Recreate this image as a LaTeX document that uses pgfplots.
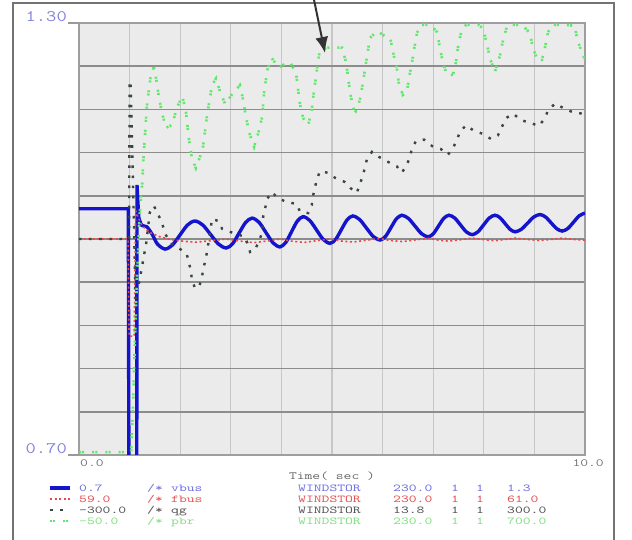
\documentclass[border=0pt]{standalone}
\usepackage{fontspec}
\usepackage{pgfplots}
\pgfplotsset{compat=1.18}
\usepackage{pgfplotstable}
\usetikzlibrary{arrows.meta}

\definecolor{vb}{RGB}{20,20,205}
\definecolor{fb}{RGB}{232,72,72}
\definecolor{qgc}{RGB}{58,70,66}
\definecolor{pbc}{RGB}{95,232,105}
\definecolor{vbt}{RGB}{110,110,225}
\definecolor{fbt}{RGB}{228,80,80}
\definecolor{qgt}{RGB}{80,80,80}
\definecolor{pbt}{RGB}{130,222,130}
\definecolor{ylab}{RGB}{130,130,222}

\newcommand\mono[3]{\scalebox{#2}[1]{\fontsize{#1}{#1}\selectfont\ttfamily #3}}

\pgfplotstableread{
t v
0 1.042
0.975 1.042
0.99 0.55
1.14 0.55
1.146 1.075
1.18 1.03
}\vbusA
\pgfplotstableread{
t v
1.18 1.03
1.24 1.019
1.34 1.017
1.45 1.006
1.55 0.993
1.70 0.986
1.8475 0.9917
1.995 1.0055
2.1425 1.0193
2.29 1.025
2.445 1.0195
2.60 1.0063
2.755 0.993
2.91 0.9875
3.0375 0.9936
3.165 1.0083
3.2925 1.0229
3.42 1.029
3.5575 1.0232
3.695 1.009
3.8325 0.9948
3.97 0.989
4.085 0.9951
4.20 1.010
4.315 1.0249
4.43 1.031
4.5625 1.0256
4.695 1.0125
4.8275 0.9994
4.96 0.994
5.0725 0.9995
5.185 1.013
5.2975 1.0265
5.41 1.032
5.545 1.0271
5.68 1.0153
5.815 1.0035
5.95 0.9986
6.0575 1.0036
6.165 1.0158
6.2725 1.028
6.38 1.033
6.51 1.0286
6.64 1.018
6.77 1.0074
6.90 1.003
7.0025 1.0074
7.105 1.018
7.2075 1.0286
7.31 1.033
7.425 1.0291
7.54 1.0195
7.655 1.0099
7.77 1.006
7.8825 1.0099
7.995 1.0195
8.1075 1.0291
8.22 1.033
8.32 1.0296
8.42 1.0215
8.52 1.0134
8.62 1.010
8.7425 1.0135
8.865 1.022
8.9875 1.0305
9.11 1.034
9.22 1.0306
9.33 1.0225
9.44 1.0144
9.55 1.011
9.6625 1.0147
9.775 1.0235
9.8875 1.0323
10.0 1.036
}\vbusB
\pgfplotstableread{
t f
0 60.0
0.97 60.0
0.99 59.55
1.09 59.55
1.12 60.13
1.17 60.10
1.25 60.06
1.40 60.03
1.60 60.01
1.80 59.998
2.05 59.99
2.30 59.985
2.60 59.992
2.90 60.0
3.20 59.99
3.45 59.983
3.70 59.99
3.97 60.0
4.20 59.99
4.45 59.984
4.70 59.992
4.96 60.0
5.20 59.99
5.42 59.986
5.70 59.995
5.95 60.002
6.15 59.993
6.40 59.988
6.65 59.996
6.90 60.003
7.10 59.995
7.30 59.99
7.55 59.997
7.77 60.004
8.00 59.997
8.22 59.992
8.42 59.998
8.62 60.004
8.87 59.998
9.10 59.993
9.33 59.998
9.55 60.004
9.78 59.998
10.0 59.995
}\fbus
\pgfplotstableread{
t q
0 0
0.99 0
1.00 219
1.02 219
1.12 -85
1.245 -39
1.285 -22
1.32 -11
1.40 37
1.48 46
1.56 35
1.64 22
1.72 5
1.85 -8
2.00 -14
2.13 -21
2.17 -32
2.21 -44
2.23 -56
2.29 -68
2.37 -67
2.43 -54
2.45 -43
2.49 -32
2.53 -18
2.63 28
2.75 25
2.83 14
2.98 10
3.28 3
3.34 -8
3.38 -18
3.48 -15
3.58 1
3.62 10
3.64 31
3.68 43
3.72 56
3.81 65
3.93 57
4.11 51
4.29 49
4.37 38
4.53 36
4.60 47
4.62 58
4.66 71
4.70 82
4.76 94
4.92 92
5.06 85
5.26 79
5.36 71
5.49 64
5.55 76
5.61 88
5.65 99
5.69 111
5.79 121
5.93 114
6.11 107
6.28 101
6.38 92
6.48 103
6.54 114
6.58 126
6.66 136
6.82 138
6.98 129
7.15 125
7.29 117
7.39 126
7.47 138
7.53 149
7.65 158
7.79 151
7.98 146
8.14 139
8.28 144
8.36 156
8.44 168
8.58 174
8.74 165
8.93 161
9.09 157
9.21 168
9.27 179
9.41 188
9.57 182
9.76 176
9.96 174
10.0 173
}\qg
\pgfplotstableread{
t p
0 -45
0.98 -45
1.03 -45
1.07 45
1.13 219
1.19 358
1.25 422
1.28 474
1.34 554
1.38 584
1.42 610
1.48 624
1.54 596
1.58 570
1.64 544
1.72 518
1.84 523
1.94 554
2.04 573
2.11 549
2.17 500
2.23 466
2.31 448
2.39 467
2.45 485
2.53 539
2.63 592
2.71 604
2.79 580
2.89 559
3.04 578
3.18 592
3.24 568
3.30 537
3.36 511
3.46 485
3.56 514
3.62 537
3.66 580
3.72 618
3.81 639
3.95 622
4.07 629
4.17 632
4.29 613
4.33 584
4.37 558
4.43 535
4.53 523
4.60 549
4.64 580
4.68 604
4.72 631
4.76 653
4.96 658
5.20 657
5.28 631
5.32 604
5.36 578
5.42 552
5.47 547
5.55 566
5.61 596
5.65 618
5.69 641
5.75 674
5.89 686
6.05 677
6.15 674
6.21 648
6.28 622
6.32 596
6.40 575
6.48 580
6.52 604
6.58 631
6.62 653
6.68 683
6.76 697
6.94 697
7.08 684
7.13 658
7.19 632
7.27 610
7.39 610
7.45 632
7.49 658
7.55 683
7.65 697
7.89 697
7.98 691
8.06 665
8.12 639
8.22 615
8.32 644
8.38 670
8.46 695
8.56 697
8.75 697
8.91 683
8.97 657
9.07 634
9.15 636
9.21 658
9.27 684
9.35 697
9.60 697
9.80 695
9.84 674
9.94 648
10.0 636
}\pbr

\tikzset{
  vbstyle/.style={vb, line width=3.4pt},
  fbstyle/.style={fb, line width=1.6pt, dash pattern=on 2pt off 2.6pt},
  qgstyle/.style={qgc, line width=2.4pt, dash pattern=on 2.6pt off 7.5pt},
  pbstyle/.style={pbc, line width=2.6pt, dash pattern=on 2pt off 1.2pt on 2pt off 8pt},
}

\begin{document}
\begin{tikzpicture}
\useasboundingbox (0pt,0pt) rectangle (632pt,540pt);
\fill[white] (0pt,0pt) rectangle (632pt,540pt);
% outer frame
\draw[black!55, line width=1.3pt] (13pt,0pt) -- (13pt,537pt) -- (614pt,537pt) -- (614pt,0pt);
\begin{axis}[
  at={(79pt,85pt)}, anchor=south west,
  scale only axis, width=506pt, height=432pt,
  xmin=0, xmax=10, ymin=0.7, ymax=1.3,
  xtick={1,2,3,4,5,6,7,8,9},
  ytick={0.76,0.82,0.88,0.94,1.00,1.06,1.12,1.18,1.24},
  xticklabels={}, yticklabels={},
  major tick length=0pt,
  grid=major,
  major x grid style={black!22, line width=1.3pt},
  major y grid style={black!45, line width=1.5pt},
  axis line style={draw=black!38, line width=1.3pt},
  axis background/.style={fill=black!8},
]
\addplot[vbstyle] table[x=t, y=v] {\vbusA};
\addplot[vbstyle, smooth, tension=0.5] table[x=t, y=v] {\vbusB};
\addplot[fbstyle] table[x=t, y expr={1+0.3*(\thisrow{f}-60)}] {\fbus};
\addplot[qgstyle] table[x=t, y expr={1+\thisrow{q}/1000}] {\qg};
\addplot[pbstyle] table[x=t, y expr={0.7+0.0008*(\thisrow{p}+50)}] {\pbr};
\end{axis}
% tick stubs
\draw[black!40, line width=1.3pt] (68pt,517pt) -- (79pt,517pt);
\draw[black!40, line width=1.3pt] (68pt,85pt) -- (79pt,85pt);
% axis labels
\node[anchor=base east, inner sep=0pt, text=ylab] at (67pt,518pt) {\mono{16}{1.25}{1.30}};
\node[anchor=base east, inner sep=0pt, text=ylab] at (67pt,86pt) {\mono{16}{1.25}{0.70}};
\node[anchor=base west, inner sep=0pt, text=black!55] at (80pt,73pt) {\mono{11}{1.38}{0.0}};
\node[anchor=base east, inner sep=0pt, text=black!55] at (604pt,73pt) {\mono{11}{1.38}{10.0}};
\node[anchor=base, inner sep=0pt, text=black!60] at (332pt,60pt) {\mono{11}{1.38}{Time( sec )}};
% legend samples
\draw[vbstyle] (50pt,52pt) -- (70pt,52pt);
\draw[fbstyle] (50pt,41pt) -- (70pt,41pt);
\draw[qgstyle] (50pt,30pt) -- (66pt,30pt);
\draw[pbstyle] (50pt,19pt) -- (72pt,19pt);
% legend rows
\foreach \yy/\cc/\a/\b/\c/\d in {48/vbt/0.7/vbus/230.0/1.3, 37/fbt/59.0/fbus/230.0/61.0, 26/qgt/-300.0/qg/13.8/300.0, 15/pbt/-50.0/pbr/230.0/700.0}{
  \node[anchor=base west, inner sep=0pt, text=\cc] at (79pt,\yy pt) {\mono{10.5}{1.42}{\a}};
  \node[anchor=base west, inner sep=0pt, text=\cc] at (147pt,\yy pt) {\mono{10.5}{1.42}{/*}};
  \node[anchor=base west, inner sep=0pt, text=\cc] at (171pt,\yy pt) {\mono{10.5}{1.42}{\b}};
  \node[anchor=base west, inner sep=0pt, text=\cc] at (298pt,\yy pt) {\mono{10.5}{1.42}{WINDSTOR}};
  \node[anchor=base west, inner sep=0pt, text=\cc] at (393pt,\yy pt) {\mono{10.5}{1.42}{\c}};
  \node[anchor=base west, inner sep=0pt, text=\cc] at (451pt,\yy pt) {\mono{10.5}{1.42}{1}};
  \node[anchor=base west, inner sep=0pt, text=\cc] at (476pt,\yy pt) {\mono{10.5}{1.42}{1}};
  \node[anchor=base west, inner sep=0pt, text=\cc] at (507pt,\yy pt) {\mono{10.5}{1.42}{\d}};
}
% annotation arrow
\draw[black!80, line width=2pt, -{Latex[length=16pt,width=13pt]}] (313pt,545pt) -- (325pt,487pt);
\end{tikzpicture}
\end{document}
